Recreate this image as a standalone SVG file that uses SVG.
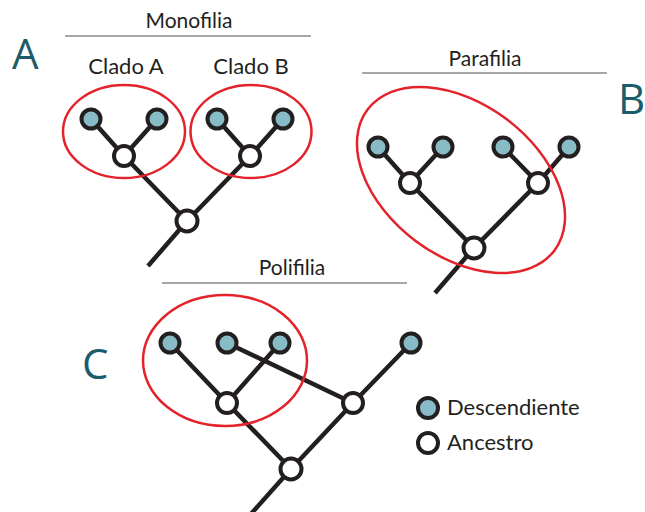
<svg xmlns="http://www.w3.org/2000/svg" width="645" height="512" viewBox="0 0 645 512">
<style>
.edge{stroke:#231f20;stroke-width:4.5;fill:none;stroke-linecap:butt}
.desc{fill:#87bcc6;stroke:#231f20;stroke-width:4}
.anc{fill:#ffffff;stroke:#231f20;stroke-width:4}
.clade{fill:none;stroke:#e3222b;stroke-width:2.5}
.rule{stroke:#8a8a8a;stroke-width:1.5}
.lbl{font-family:Lato,"Open Sans","Liberation Sans",sans-serif;font-size:22px;fill:#231f20}
.hd{font-size:21px}
.big{font-family:"Open Sans","Liberation Sans",sans-serif;font-size:42px;fill:#1b5c69}
</style>
<rect width="645" height="512" fill="#ffffff"/>

<!-- headings -->
<g id="headings">
<text class="lbl hd" x="189" y="28" text-anchor="middle">Monofilia</text>
<line class="rule" x1="65" y1="36" x2="311" y2="36"/>
<text class="lbl" x="126" y="74" text-anchor="middle">Clado A</text>
<text class="lbl" x="251" y="74" text-anchor="middle">Clado B</text>
<text class="lbl hd" x="485" y="66" text-anchor="middle">Parafilia</text>
<line class="rule" x1="362" y1="73" x2="607" y2="73"/>
<text class="lbl hd" x="292" y="275" text-anchor="middle">Polifilia</text>
<line class="rule" x1="162" y1="283" x2="407" y2="283"/>
<text class="big" x="12" y="69">A</text>
<text class="big" x="618" y="114">B</text>
<text class="big" x="82" y="379">C</text>
</g>

<!-- connectors -->
<g id="connectors">
<!-- A -->
<line class="edge" x1="91" y1="119" x2="124" y2="156"/>
<line class="edge" x1="157" y1="119" x2="124" y2="156"/>
<line class="edge" x1="217" y1="119" x2="250" y2="156"/>
<line class="edge" x1="283" y1="119" x2="250" y2="156"/>
<line class="edge" x1="124" y1="156" x2="187" y2="221"/>
<line class="edge" x1="250" y1="156" x2="187" y2="221"/>
<line class="edge" x1="187" y1="221" x2="148" y2="266"/>
<!-- B -->
<line class="edge" x1="378" y1="147" x2="410" y2="183"/>
<line class="edge" x1="443" y1="147" x2="410" y2="183"/>
<line class="edge" x1="503" y1="147" x2="538" y2="183"/>
<line class="edge" x1="569" y1="147" x2="538" y2="183"/>
<line class="edge" x1="410" y1="183" x2="474" y2="248"/>
<line class="edge" x1="538" y1="183" x2="474" y2="248"/>
<line class="edge" x1="474" y1="248" x2="435" y2="293"/>
<!-- C -->
<line class="edge" x1="170" y1="343" x2="227" y2="403"/>
<line class="edge" x1="280" y1="343" x2="227" y2="403"/>
<line class="edge" x1="227" y1="343" x2="353" y2="403"/>
<line class="edge" x1="411" y1="343" x2="353" y2="403"/>
<line class="edge" x1="227" y1="403" x2="291" y2="469"/>
<line class="edge" x1="353" y1="403" x2="291" y2="469"/>
<line class="edge" x1="291" y1="469" x2="250" y2="515"/>
</g>

<!-- clade outlines -->
<g id="clades">
<ellipse class="clade" cx="124" cy="131.5" rx="61" ry="46.5"/>
<ellipse class="clade" cx="251" cy="131.5" rx="60.5" ry="46.5"/>
<ellipse class="clade" cx="461" cy="180" rx="117" ry="76" transform="rotate(37 461 180)"/>
<ellipse class="clade" cx="225" cy="360.5" rx="82" ry="65.5"/>
</g>

<!-- nodes A -->
<g id="nodeA-d1"><circle class="desc" cx="91" cy="119" r="9.5"/></g>
<g id="nodeA-d2"><circle class="desc" cx="157" cy="119" r="9.5"/></g>
<g id="nodeA-d3"><circle class="desc" cx="217" cy="119" r="9.5"/></g>
<g id="nodeA-d4"><circle class="desc" cx="283" cy="119" r="9.5"/></g>
<g id="nodeA-a1"><circle class="anc" cx="124" cy="156" r="10"/></g>
<g id="nodeA-a2"><circle class="anc" cx="250" cy="156" r="10"/></g>
<g id="nodeA-root"><circle class="anc" cx="187" cy="221" r="10.5"/></g>

<!-- nodes B -->
<g id="nodeB-d1"><circle class="desc" cx="378" cy="147" r="9.5"/></g>
<g id="nodeB-d2"><circle class="desc" cx="443" cy="147" r="9.5"/></g>
<g id="nodeB-d3"><circle class="desc" cx="503" cy="147" r="9.5"/></g>
<g id="nodeB-d4"><circle class="desc" cx="569" cy="147" r="9.5"/></g>
<g id="nodeB-a1"><circle class="anc" cx="410" cy="183" r="10"/></g>
<g id="nodeB-a2"><circle class="anc" cx="538" cy="183" r="10"/></g>
<g id="nodeB-root"><circle class="anc" cx="474" cy="248" r="10.5"/></g>

<!-- nodes C -->
<g id="nodeC-d1"><circle class="desc" cx="170" cy="343" r="9.5"/></g>
<g id="nodeC-d2"><circle class="desc" cx="227" cy="343" r="9.5"/></g>
<g id="nodeC-d3"><circle class="desc" cx="280" cy="343" r="9.5"/></g>
<g id="nodeC-d4"><circle class="desc" cx="411" cy="343" r="9.5"/></g>
<g id="nodeC-a1"><circle class="anc" cx="227" cy="403" r="10"/></g>
<g id="nodeC-a2"><circle class="anc" cx="353" cy="403" r="10"/></g>
<g id="nodeC-root"><circle class="anc" cx="291" cy="469" r="10.5"/></g>

<!-- legend -->
<g id="legend-desc">
<circle class="desc" cx="428" cy="408" r="10"/>
<text class="lbl" x="447" y="415">Descendiente</text>
</g>
<g id="legend-anc">
<circle class="anc" cx="428" cy="443" r="10"/>
<text class="lbl" x="447" y="450">Ancestro</text>
</g>
</svg>
